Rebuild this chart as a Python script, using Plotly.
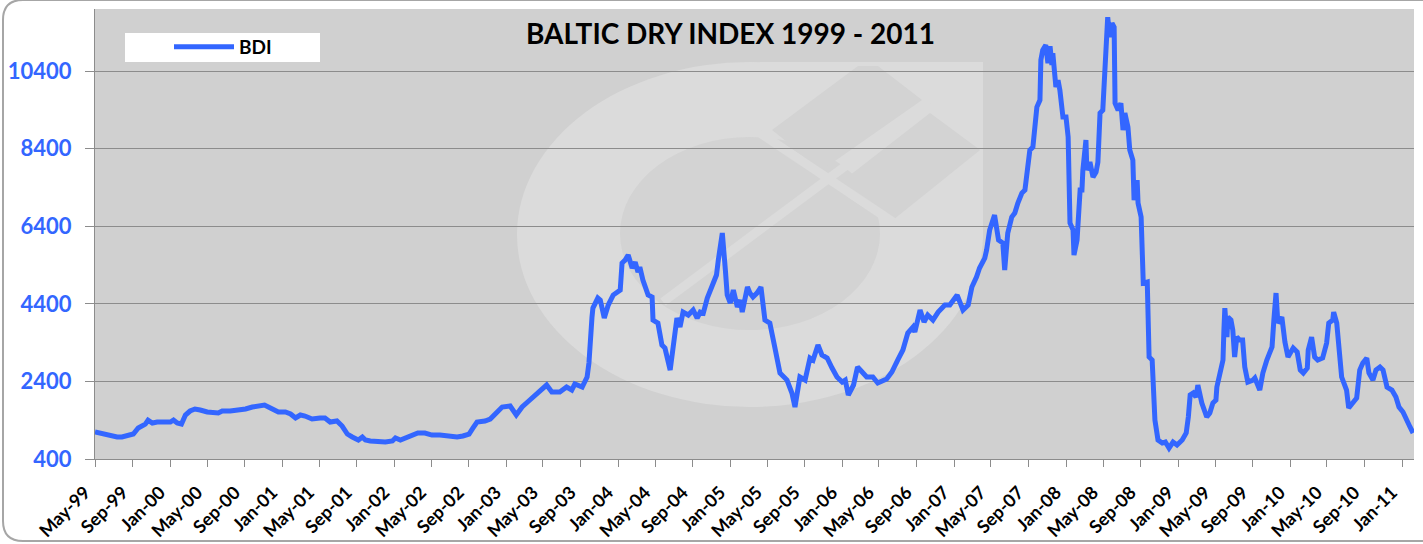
import plotly.graph_objects as go

# ---------------- data ----------------
dates = [
    "1999-05-01", "1999-05-17", "1999-06-03", "1999-06-29", "1999-07-12", "1999-07-28", "1999-08-14",
    "1999-09-03", "1999-09-19", "1999-10-12", "1999-10-21", "1999-11-04", "1999-11-20", "1999-12-16",
    "2000-01-02", "2000-01-12", "2000-01-24", "2000-02-07", "2000-02-20", "2000-03-06", "2000-03-22",
    "2000-04-08", "2000-05-01", "2000-06-06", "2000-06-19", "2000-07-15", "2000-08-17", "2000-09-03",
    "2000-09-25", "2000-10-15", "2000-11-04", "2000-11-23", "2000-12-19", "2001-01-11", "2001-01-28",
    "2001-02-13", "2001-03-01", "2001-03-16", "2001-04-08", "2001-05-04", "2001-05-20", "2001-06-06",
    "2001-06-28", "2001-07-15", "2001-08-01", "2001-08-17", "2001-09-06", "2001-09-19", "2001-09-29",
    "2001-10-15", "2001-11-07", "2001-12-03", "2001-12-26", "2002-01-05", "2002-01-21", "2002-02-07",
    "2002-02-23", "2002-03-19", "2002-04-11", "2002-05-04", "2002-05-30", "2002-06-22", "2002-07-08",
    "2002-07-25", "2002-08-13", "2002-09-02", "2002-09-15", "2002-09-28", "2002-10-24", "2002-11-10",
    "2002-12-19", "2003-01-14", "2003-02-03", "2003-02-22", "2003-03-12", "2003-04-11", "2003-05-13",
    "2003-05-30", "2003-06-25", "2003-07-17", "2003-08-03", "2003-08-13", "2003-09-06", "2003-09-22",
    "2003-09-28", "2003-10-08", "2003-10-11", "2003-10-27", "2003-11-04", "2003-11-17", "2003-11-30",
    "2003-12-16", "2004-01-08", "2004-01-14", "2004-01-24", "2004-02-03", "2004-02-16", "2004-02-26",
    "2004-03-06", "2004-03-12", "2004-03-22", "2004-04-08", "2004-04-21", "2004-04-24", "2004-05-10",
    "2004-05-23", "2004-06-02", "2004-06-19", "2004-06-29", "2004-07-11", "2004-07-21", "2004-07-31",
    "2004-08-17", "2004-09-02", "2004-09-15", "2004-09-25", "2004-10-05", "2004-10-18", "2004-11-04",
    "2004-11-17", "2004-11-23", "2004-12-06", "2004-12-16", "2004-12-22", "2005-01-01", "2005-01-11",
    "2005-01-24", "2005-02-03", "2005-02-09", "2005-02-26", "2005-03-06", "2005-03-16", "2005-03-29",
    "2005-04-11", "2005-04-24", "2005-05-10", "2005-05-26", "2005-06-12", "2005-07-05", "2005-07-21",
    "2005-07-31", "2005-08-16", "2005-09-02", "2005-09-18", "2005-09-28", "2005-10-14", "2005-10-27",
    "2005-11-13", "2005-11-29", "2005-12-15", "2006-01-01", "2006-01-11", "2006-01-21", "2006-02-07",
    "2006-02-20", "2006-03-06", "2006-03-22", "2006-04-11", "2006-04-27", "2006-05-26", "2006-06-12",
    "2006-07-01", "2006-07-18", "2006-08-03", "2006-08-20", "2006-08-26", "2006-09-12", "2006-09-25",
    "2006-10-07", "2006-10-24", "2006-11-10", "2006-12-02", "2006-12-18", "2007-01-11", "2007-01-30",
    "2007-02-16", "2007-02-28", "2007-03-15", "2007-03-25", "2007-04-11", "2007-04-17", "2007-04-27",
    "2007-05-13", "2007-05-26", "2007-06-09", "2007-06-15", "2007-06-25", "2007-07-08", "2007-07-18",
    "2007-07-28", "2007-08-10", "2007-08-20", "2007-08-26", "2007-09-05", "2007-09-15", "2007-09-22",
    "2007-09-28", "2007-10-08", "2007-10-11", "2007-10-17", "2007-10-27", "2007-11-03", "2007-11-10",
    "2007-11-16", "2007-11-19", "2007-11-29", "2007-12-06", "2007-12-12", "2007-12-22", "2008-01-01",
    "2008-01-08", "2008-01-14", "2008-01-24", "2008-01-27", "2008-02-06", "2008-02-16", "2008-02-22",
    "2008-02-25", "2008-03-06", "2008-03-09", "2008-03-19", "2008-03-29", "2008-04-08", "2008-04-14",
    "2008-04-21", "2008-04-30", "2008-05-07", "2008-05-13", "2008-05-16", "2008-05-23", "2008-05-30",
    "2008-06-06", "2008-06-09", "2008-06-19", "2008-06-28", "2008-07-05", "2008-07-11", "2008-07-21",
    "2008-07-27", "2008-08-06", "2008-08-10", "2008-08-20", "2008-08-23", "2008-09-02", "2008-09-06",
    "2008-09-09", "2008-09-22", "2008-09-28", "2008-10-08", "2008-10-11", "2008-10-17", "2008-10-27",
    "2008-11-10", "2008-11-20", "2008-12-02", "2008-12-15", "2008-12-28", "2009-01-14", "2009-01-27",
    "2009-02-03", "2009-02-09", "2009-02-19", "2009-02-28", "2009-03-06", "2009-03-19", "2009-04-04",
    "2009-04-14", "2009-04-24", "2009-05-04", "2009-05-07", "2009-05-17", "2009-05-27", "2009-05-30",
    "2009-06-02", "2009-06-09", "2009-06-12", "2009-06-22", "2009-06-28", "2009-07-04", "2009-07-11",
    "2009-07-20", "2009-07-30", "2009-08-06", "2009-08-16", "2009-09-02", "2009-09-08", "2009-09-24",
    "2009-10-04", "2009-10-17", "2009-11-03", "2009-11-09", "2009-11-16", "2009-11-22", "2009-12-05",
    "2009-12-15", "2009-12-25", "2010-01-11", "2010-01-24", "2010-02-03", "2010-02-13", "2010-02-26",
    "2010-03-01", "2010-03-12", "2010-03-22", "2010-04-01", "2010-04-17", "2010-04-30", "2010-05-07",
    "2010-05-20", "2010-05-23", "2010-06-02", "2010-06-12", "2010-06-18", "2010-07-04", "2010-07-11",
    "2010-07-24", "2010-08-06", "2010-08-16", "2010-08-26", "2010-09-08", "2010-09-15", "2010-09-28",
    "2010-10-08", "2010-10-21", "2010-10-31", "2010-11-13", "2010-11-29", "2010-12-12", "2010-12-22",
    "2011-01-04", "2011-01-14", "2011-01-27", "2011-02-06",
]

bdi = [
    1096, 1070, 1018, 993, 967, 967, 1018,
    1044, 1200, 1300, 1400, 1328, 1353, 1353,
    1353, 1405, 1328, 1302, 1534, 1637, 1689,
    1663, 1611, 1585, 1637, 1637, 1663, 1689,
    1740, 1766, 1792, 1714, 1611, 1611, 1560,
    1457, 1534, 1508, 1431, 1457, 1457, 1353,
    1379, 1250, 1044, 967, 890, 967, 890,
    864, 838, 838, 864, 941, 890, 941,
    1018, 1070, 1070, 1018, 1018, 993, 993,
    967, 993, 1044, 1200, 1353, 1379, 1431,
    1740, 1766, 1534, 1740, 1869, 2075, 2307,
    2127, 2127, 2255, 2178, 2333, 2255, 2513,
    2874, 4059, 4291, 4549, 4497, 4034, 4369,
    4626, 4755, 5451, 5528, 5657, 5322, 5477,
    5219, 5348, 5013, 4626, 4575, 3982, 3905,
    3338, 3260, 2693, 3209, 4034, 3802, 4188,
    4111, 4240, 4034, 4188, 4162, 4549, 4884,
    5142, 5528, 6224, 5271, 4626, 4420, 4755,
    4317, 4497, 4188, 4832, 4678, 4575, 4678,
    4832, 3982, 3905, 3286, 2616, 2436, 2101,
    1740, 2513, 2436, 3003, 2951, 3338, 3080,
    3003, 2745, 2513, 2384, 2436, 2049, 2307,
    2771, 2642, 2513, 2513, 2358, 2462, 2642,
    2951, 3209, 3647, 3802, 3673, 4240, 3930,
    4111, 3982, 4188, 4369, 4369, 4626, 4240,
    4369, 4832, 5090, 5322, 5580, 5786, 6301,
    6688, 6044, 5966, 5271, 6224, 6636, 6739,
    6997, 7255, 7332, 7667, 8363, 8440, 9058,
    9471, 9651, 10682, 10940, 11069, 10605, 11043,
    10553, 10862, 9986, 10167, 9909, 9213, 9213,
    8698, 6482, 6301, 5657, 6044, 7332, 7332,
    7847, 8620, 7847, 8053, 7667, 7796, 8053,
    9316, 9393, 10244, 10940, 11790, 11275, 11636,
    11533, 9574, 9393, 9574, 8878, 9316, 8956,
    8363, 8105, 7074, 7590, 6997, 6636, 5786,
    4935, 4961, 3029, 2951, 2178, 1405, 890,
    812, 838, 683, 838, 761, 890, 1070,
    1482, 2049, 2101, 1998, 2307, 1843, 1482,
    1585, 1843, 1920, 2255, 2693, 2951, 3724,
    4291, 3544, 4059, 3982, 3724, 3029, 3544,
    3467, 3467, 2771, 2384, 2436, 2487, 2178,
    2616, 2951, 3286, 3982, 4678, 3905, 4059,
    3415, 3029, 3260, 3157, 2693, 2616, 2745,
    3209, 3544, 3029, 2951, 3003, 3389, 3905,
    3982, 4188, 3905, 2951, 2513, 2178, 1714,
    1843, 1972, 2693, 2874, 3003, 2616, 2436,
    2693, 2771, 2693, 2255, 2178, 1998, 1740,
    1611, 1405, 1225, 1070,
]

series_name = "BDI"
title_text = "BALTIC DRY INDEX 1999 - 2011"
y_ticks = [400, 2400, 4400, 6400, 8400, 10400]
y_tick_labels = ["400", "2400", "4400", "6400", "8400", "10400"]
y_range = [400, 12000]
x_range = ["1999-05-01", "2011-02-09"]
x_tick_dates = []
for yr in range(1999, 2012):
    for mo in (1, 5, 9):
        d = f"{yr}-{mo:02d}-01"
        if "1999-05-01" <= d <= "2011-01-01":
            x_tick_dates.append(d)

# ---------------- style ----------------
LINE_BLUE = "#3366ff"
PLOT_BG = "#d0d0d0"
WM_LIGHT = "#dbdbdb"
WM_DARK = "#d3d3d3"
FONT = "Lato"

# plot area in pixels: x 95..1414, y 9..459
W, H = 1423, 544
ML, MR, MT, MB = 95, 9, 9, 85
PW, PH = W - ML - MR, H - MT - MB


def px(x):
    return (x - ML) / PW


def py(y):
    return (H - MB - y) / PH


fig = go.Figure()
fig.add_trace(go.Scatter(
    x=dates, y=bdi, mode="lines", name=series_name,
    line=dict(color=LINE_BLUE, width=5),
))

shapes = []
# watermark logo (faint)
shapes.append(dict(type="circle", xref="paper", yref="paper", layer="below",
                   x0=px(517), x1=px(983), y0=py(407), y1=py(62),
                   fillcolor=WM_LIGHT, line=dict(width=0)))
shapes.append(dict(type="rect", xref="paper", yref="paper", layer="below",
                   x0=px(760), x1=px(983), y0=py(240), y1=py(62),
                   fillcolor=WM_LIGHT, line=dict(width=0)))
shapes.append(dict(type="circle", xref="paper", yref="paper", layer="below",
                   x0=px(620), x1=px(880), y0=py(330), y1=py(137),
                   fillcolor=WM_DARK, line=dict(width=0)))


def poly(pts, color):
    path = "M " + " L ".join(f"{px(a):.4f},{py(b):.4f}" for a, b in pts) + " Z"
    return dict(type="path", xref="paper", yref="paper", layer="below", path=path,
                fillcolor=color, line=dict(width=0))


shapes.append(poly([(772, 130), (858, 66), (878, 66), (922, 100), (822, 170)], WM_DARK))
shapes.append(poly([(840, 183), (930, 113), (980, 150), (893, 220)], WM_DARK))
shapes.append(dict(type="line", xref="paper", yref="paper", layer="below",
                   x0=px(663), y0=py(302), x1=px(930), y1=py(103),
                   line=dict(color=WM_LIGHT, width=9)))
shapes.append(dict(type="line", xref="paper", yref="paper", layer="below",
                   x0=px(760), y0=py(133), x1=px(893), y1=py(222),
                   line=dict(color=WM_LIGHT, width=9)))
# legend background box
shapes.append(dict(type="rect", xref="paper", yref="paper", layer="below",
                   x0=px(125), x1=px(320), y0=py(62), y1=py(33),
                   fillcolor="white", line=dict(width=0)))
# outer rounded chart border
r = 20
L, R, T, B = 3, 1440, 0, 541
border = (f"M {px(L)},{py(T + r)} Q {px(L)},{py(T)} {px(L + r)},{py(T)} "
          f"L {px(R)},{py(T)} L {px(R)},{py(B)} L {px(L + r)},{py(B)} "
          f"Q {px(L)},{py(B)} {px(L)},{py(B - r)} Z")
shapes.append(dict(type="path", xref="paper", yref="paper", layer="below", path=border,
                   line=dict(color="#a6a6a6", width=2), fillcolor="rgba(0,0,0,0)"))

fig.update_layout(
    width=W, height=H,
    margin=dict(l=ML, r=MR, t=MT, b=MB, autoexpand=False),
    paper_bgcolor="white",
    plot_bgcolor=PLOT_BG,
    font=dict(family=FONT, color="black"),
    shapes=shapes,
    showlegend=True,
    legend=dict(x=px(169), y=py(47), xanchor="left", yanchor="middle", itemwidth=60,
                bgcolor="rgba(0,0,0,0)", font=dict(size=19, family=FONT, color="black", weight="bold")),
    annotations=[dict(text=f"<b>{title_text}</b>", xref="paper", yref="paper",
                      x=px(730), y=py(33), xanchor="center", yanchor="middle",
                      showarrow=False, font=dict(size=28, family=FONT, color="black"))],
)

fig.update_xaxes(
    type="date", range=x_range, automargin=False,
    tickvals=x_tick_dates, tickformat="%b-%y", tickangle=-45,
    tickfont=dict(size=18, family=FONT, color="black", weight="bold"),
    ticks="outside", ticklen=7, tickcolor="#8c8c8c",
    ticklabelstandoff=8, ticklabelshift=-10,
    showline=True, linecolor="#8c8c8c", linewidth=1,
    showgrid=False, zeroline=False,
)
fig.update_yaxes(
    range=y_range, tickvals=y_ticks, ticktext=y_tick_labels, automargin=False,
    tickfont=dict(size=22, family=FONT, color=LINE_BLUE, weight="bold"),
    ticks="outside", ticklen=9, tickcolor="#8c8c8c", ticklabelstandoff=9,
    showline=True, linecolor="#8c8c8c", linewidth=1,
    showgrid=True, gridcolor="#8c8c8c", gridwidth=1, zeroline=False,
)

fig.write_html("out.html", config={"displayModeBar": False},
               post_script="document.body.style.margin='0';")
